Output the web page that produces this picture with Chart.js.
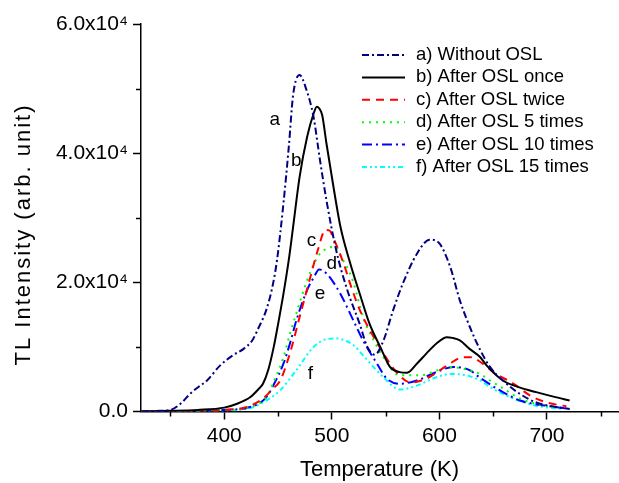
<!DOCTYPE html>
<html>
<head>
<meta charset="utf-8">
<script src="https://cdn.jsdelivr.net/npm/chart.js@4.4.0/dist/chart.umd.min.js"></script>
<style>
body{margin:0;background:#fff}
</style>
</head>
<body>
<canvas id="tlChart" width="619" height="483"></canvas>
<script>
// TL glow curves, temperature (K) vs intensity
var seriesNames = ["a) Without OSL", "b) After OSL once", "c) After OSL twice",
                   "d) After OSL 5 times", "e) After OSL 10 times", "f) After OSL 15 times"];

var aTemp = [323,340,350,360,368,376,384,396,408,418,426,432,439,445,449,455,460,464,470,476,483,489,495,504,514,526,533,540,548,557,566,579,591,599,610,619,628,638,647,659,675,690,705,721];
var aVal  = [0,100,250,1300,2700,3800,4800,7100,8700,9700,11000,13000,15700,19500,23400,32200,41000,49000,52100,50000,45600,38900,32700,25000,19000,13500,10000,8800,11000,15700,19800,24400,26600,26200,22400,17200,13200,9500,6900,4800,2700,1400,800,400];

var bTemp = [323,350,375,400,412,424,432,436,441,446,450,455,460,464,470,477,483,486,488,491,495,501,508,517,526,535,545,554,563,570,579,588,597,607,612,619,628,638,644,659,675,690,706,721];
var bVal  = [0,100,250,600,1200,2200,3500,4300,6500,10000,13500,18200,23500,28600,36300,42500,46100,47200,47000,45900,41500,35300,28600,23000,18200,13600,10000,6900,6100,6000,7400,9000,10500,11500,11400,11000,9700,8400,7100,4800,3700,3000,2300,1700];

var cTemp = [323,375,400,421,436,445,452,461,470,480,487,494,498,501,511,517,526,539,548,560,573,588,607,622,630,636,653,669,684,700,718];
var cVal  = [0,100,250,700,2000,3500,4800,9000,14600,20800,25000,28100,28000,27000,22900,19800,15700,11500,9000,6100,4500,5100,7100,8400,8400,7900,5800,4300,2500,1400,800];

var dTemp = [323,400,424,439,447,455,461,467,477,487,495,503,510,514,520,529,539,548,563,582,610,628,638,647,656,675,690,712];
var dVal  = [0,250,700,2200,5000,8400,12000,15200,20300,24000,25200,25500,23500,22400,20000,14600,11000,8400,5600,5600,6900,6400,5800,4800,3900,2000,1200,500];

var eTemp = [323,400,424,439,447,455,461,467,477,484,488,492,498,508,520,529,542,551,563,579,597,613,628,638,659,675,703,721];
var eVal  = [0,250,700,2200,4500,7400,10500,14100,18800,21000,22000,21800,20800,18200,14100,11000,7400,5100,4300,4800,6100,6900,6400,5200,3000,1700,800,400];

var fTemp = [323,400,421,436,452,467,483,495,505,512,520,530,548,563,579,594,610,625,638,647,666,690,715];
var fVal  = [0,150,400,1400,3300,6400,10000,11200,11300,11000,10300,8500,5300,3400,4000,5100,5800,5600,4800,3800,2200,900,400];

var xTickValues = [400, 500, 600, 700];
var xMinorValues = [350, 450, 550, 650, 750];
var yTickValues = [0, 20000, 40000, 60000];
var yTickLabels = ["0.0", "2.0x10\u2074", "4.0x10\u2074", "6.0x10\u2074"];
var yMinorValues = [10000, 30000, 50000];

var curveLetters = ["a", "b", "c", "d", "e", "f"];
var letterTemp = [447, 467, 481, 500, 489, 480];
var letterVal  = [45100, 38900, 26500, 22900, 18300, 5900];

var colores = ["#000080", "#000000", "#ff0000", "#00ff00", "#0000ff", "#00ffff"];
var guiones = [[7,3,2,3], [], [8,6], [2,5], [10,4,2,4], [5,3,2,3,2,3]];
var fuente = '"Liberation Sans", Arial, sans-serif';

function puntos(t, v){
    var out = [];
    for (var i = 0; i < t.length; i++) out.push({x: t[i], y: v[i]});
    return out;
}

var allTemps = [aTemp, bTemp, cTemp, dTemp, eTemp, fTemp];
var allVals = [aVal, bVal, cVal, dVal, eVal, fVal];

var datasets = [];
for (var k = 0; k < 6; k++) {
    datasets.push({
        label: seriesNames[k],
        data: puntos(allTemps[k], allVals[k]),
        borderColor: colores[k],
        borderWidth: 2,
        borderDash: guiones[k],
        pointRadius: 0,
        fill: false,
        cubicInterpolationMode: 'monotone'
    });
}

var extras = {
    id: 'extras',
    afterDraw: function(chart) {
        var ctx = chart.ctx, xs = chart.scales.x, ys = chart.scales.y, area = chart.chartArea;
        ctx.save();
        // minor ticks
        ctx.strokeStyle = '#000';
        ctx.lineWidth = 1.5;
        xMinorValues.forEach(function(v){
            var px = Math.round(xs.getPixelForValue(v)) + 0.5;
            ctx.beginPath(); ctx.moveTo(px, area.bottom); ctx.lineTo(px, area.bottom + 5); ctx.stroke();
        });
        yMinorValues.forEach(function(v){
            var py = Math.round(ys.getPixelForValue(v)) + 0.5;
            ctx.beginPath(); ctx.moveTo(area.left, py); ctx.lineTo(area.left - 5, py); ctx.stroke();
        });

        // curve letters
        ctx.fillStyle = '#000';
        ctx.font = '19px ' + fuente;
        ctx.textAlign = 'center';
        ctx.textBaseline = 'middle';
        for (var i = 0; i < curveLetters.length; i++) {
            ctx.fillText(curveLetters[i], xs.getPixelForValue(letterTemp[i]), ys.getPixelForValue(letterVal[i]));
        }

        // y title, drawn by hand to get the wide spacing
        ctx.save();
        ctx.translate(23.5, 234.5);
        ctx.rotate(-Math.PI / 2);
        ctx.font = '22px ' + fuente;
        if ('letterSpacing' in ctx) ctx.letterSpacing = '2px';
        ctx.fillText('TL Intensity (arb. unit)', 0, 0);
        ctx.restore();

        // legend inside the plot
        var lx = 362, ly = 55, paso = 22.4;
        ctx.font = '18.5px ' + fuente;
        ctx.textAlign = 'left';
        for (var j = 0; j < seriesNames.length; j++) {
            var yy = ly + j * paso;
            ctx.strokeStyle = colores[j];
            ctx.lineWidth = 2;
            ctx.setLineDash(guiones[j]);
            ctx.beginPath(); ctx.moveTo(lx, yy); ctx.lineTo(lx + 43, yy); ctx.stroke();
            ctx.setLineDash([]);
            ctx.fillStyle = '#000';
            ctx.fillText(seriesNames[j], lx + 54, yy);
        }
        ctx.restore();
    }
};

var ctx = document.getElementById("tlChart").getContext("2d");
var grafico = new Chart(ctx, {
    type: 'line',
    data: { datasets: datasets },
    plugins: [extras],
    options: {
        responsive: false,
        animation: false,
        devicePixelRatio: 1,
        layout: { padding: { top: 24, right: 1, left: 0, bottom: 0 } },
        plugins: { legend: { display: false }, tooltip: { enabled: false } },
        scales: {
            x: {
                type: 'linear',
                min: 322.6,
                max: 766,
                afterFit: function(scale){ scale.height = 71.5; },
                afterBuildTicks: function(scale){
                    scale.ticks = xTickValues.map(function(v){ return {value: v}; });
                },
                grid: { drawOnChartArea: false, tickLength: 8, tickColor: '#000', tickWidth: 1.5 },
                border: { color: '#000', width: 1.5 },
                ticks: {
                    color: '#000',
                    padding: 4,
                    maxRotation: 0,
                    font: { family: fuente, size: 21 }
                },
                title: {
                    display: true,
                    text: 'Temperature (K)',
                    color: '#000',
                    padding: { top: 0, bottom: 0 },
                    font: { family: fuente, size: 22 }
                }
            },
            y: {
                min: 0,
                max: 60000,
                afterFit: function(scale){ scale.width = 141; },
                afterBuildTicks: function(scale){
                    scale.ticks = yTickValues.map(function(v){ return {value: v}; });
                },
                grid: { drawOnChartArea: false, tickLength: 8, tickColor: '#000', tickWidth: 1.5 },
                border: { color: '#000', width: 1.5 },
                ticks: {
                    color: '#000',
                    padding: 5,
                    font: { family: fuente, size: 21 },
                    callback: function(value){
                        var idx = yTickValues.indexOf(value);
                        return idx >= 0 ? yTickLabels[idx] : '';
                    }
                },
                title: { display: false }
            }
        }
    }
});
</script>
</body>
</html>
